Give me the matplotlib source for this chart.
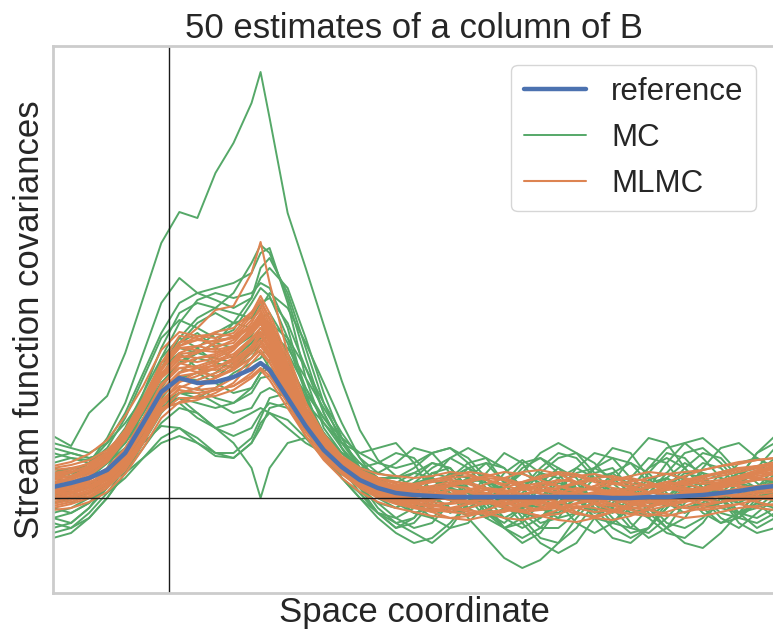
import matplotlib
matplotlib.use("Agg")
import matplotlib.pyplot as plt
from matplotlib.lines import Line2D
import seaborn as sns

sns.set_theme(style="white")
plt.rcParams['font.family'] = ['Liberation Sans', 'DejaVu Sans']

# space coordinate (0..100)
space = [0, 2.5, 5, 7.5, 10, 12.5, 15, 17.5, 20, 22.5, 25, 27.5, 28.75, 30, 32.5, 35, 37.5, 40,
         42.5, 45, 47.5, 50, 52.5, 55, 57.5, 60, 62.5, 65, 67.5, 70, 72.5, 75, 77.5, 80, 82.5,
         85, 87.5, 90, 92.5, 95, 97.5, 100]

reference = [0.11, 0.15, 0.20, 0.28, 0.45, 0.75, 1.06, 1.20, 1.15, 1.16, 1.21, 1.29, 1.35, 1.28,
             1.00, 0.72, 0.48, 0.31, 0.18, 0.10, 0.05, 0.03, 0.02, 0.01, 0.01, 0.01, 0.01, 0.01,
             0.01, 0.01, 0.01, 0.01, 0.00, 0.00, 0.01, 0.01, 0.02, 0.03, 0.05, 0.07, 0.10, 0.12]

mc_estimates = [
    [0.62,0.52,0.85,1.02,1.45,2.00,2.55,2.86,2.80,3.25,3.55,3.95,4.26,3.80,2.85,2.30,1.73,1.17,0.68,0.38,0.22,0.10,0.02,-0.10,-0.18,-0.12,0.02,0.15,0.20,0.12,-0.02,-0.12,-0.08,0.05,0.18,0.25,0.18,0.05,-0.05,0.00,0.12,0.20],
    [0.30,0.22,0.35,0.60,0.95,1.45,1.95,2.20,2.05,2.10,2.15,2.25,2.45,2.50,1.95,1.20,0.70,0.45,0.30,0.35,0.45,0.40,0.20,0.00,-0.10,0.02,0.25,0.38,0.25,0.02,-0.15,-0.20,-0.05,0.20,0.40,0.35,0.10,-0.10,-0.05,0.20,0.45,0.55],
    [0.10,0.05,0.12,0.30,0.60,1.05,1.50,1.85,1.95,1.90,2.05,2.35,2.53,2.45,2.00,1.40,0.85,0.50,0.25,0.10,-0.05,-0.15,-0.10,0.10,0.30,0.35,0.15,-0.10,-0.25,-0.20,0.05,0.25,0.30,0.10,-0.15,-0.30,-0.20,0.05,0.25,0.30,0.15,0.00],
    [-0.20,-0.25,-0.10,0.15,0.45,0.90,1.40,1.75,1.98,2.05,2.00,2.05,2.15,2.10,1.70,1.05,0.55,0.20,0.05,-0.15,-0.30,-0.20,0.05,0.25,0.20,-0.05,-0.30,-0.45,-0.35,-0.10,0.15,0.20,0.00,-0.25,-0.40,-0.30,-0.05,0.15,0.10,-0.15,-0.30,-0.20],
    [0.45,0.40,0.35,0.50,0.80,1.20,1.60,1.78,1.70,1.60,1.68,1.95,2.10,2.02,1.60,1.10,0.75,0.55,0.45,0.50,0.55,0.35,0.05,-0.15,-0.05,0.25,0.45,0.35,0.10,-0.05,0.05,0.30,0.50,0.45,0.20,0.00,0.05,0.30,0.50,0.55,0.40,0.30],
    [0.00,-0.05,0.05,0.20,0.45,0.80,1.15,1.35,1.45,1.55,1.50,1.62,1.80,1.85,1.55,1.05,0.60,0.30,0.10,-0.05,-0.10,0.05,0.25,0.30,0.10,-0.15,-0.25,-0.10,0.15,0.30,0.20,-0.05,-0.25,-0.30,-0.10,0.20,0.35,0.25,0.00,-0.15,-0.10,0.05],
    [0.25,0.30,0.28,0.35,0.55,0.85,1.20,1.55,1.65,1.50,1.40,1.55,1.70,1.62,1.25,0.85,0.55,0.40,0.35,0.20,0.00,-0.15,-0.20,-0.05,0.20,0.35,0.30,0.10,-0.10,-0.15,0.00,0.20,0.25,0.10,-0.05,0.00,0.20,0.35,0.30,0.10,0.00,0.10],
    [-0.35,-0.30,-0.15,0.05,0.30,0.65,1.00,1.20,1.18,1.25,1.40,1.55,1.62,1.50,1.20,0.90,0.65,0.40,0.15,-0.10,-0.25,-0.35,-0.45,-0.30,-0.05,0.10,0.05,-0.20,-0.40,-0.45,-0.30,-0.05,0.10,0.00,-0.20,-0.35,-0.40,-0.25,0.00,0.10,-0.05,-0.20],
    [0.55,0.50,0.45,0.55,0.75,1.00,1.30,1.45,1.30,1.20,1.35,1.50,1.45,1.30,1.05,0.80,0.60,0.45,0.30,0.25,0.35,0.50,0.45,0.25,0.05,-0.05,0.10,0.30,0.40,0.30,0.10,0.00,0.15,0.40,0.60,0.55,0.30,0.10,0.05,0.20,0.45,0.62],
    [-0.10,-0.15,-0.05,0.15,0.40,0.70,0.95,1.05,1.00,1.10,1.25,1.35,1.40,1.55,1.35,1.00,0.65,0.35,0.15,0.00,-0.05,0.10,0.20,0.05,-0.20,-0.40,-0.60,-0.70,-0.62,-0.45,-0.20,0.00,0.05,-0.10,-0.20,-0.05,0.15,0.20,0.00,-0.25,-0.35,-0.30],
    [0.20,0.15,0.20,0.35,0.50,0.70,0.90,0.95,0.80,0.70,0.75,0.85,0.90,0.85,0.70,0.55,0.45,0.40,0.30,0.15,0.05,0.15,0.30,0.40,0.30,0.10,-0.10,-0.15,0.00,0.20,0.30,0.20,0.00,-0.15,-0.10,0.10,0.25,0.20,0.05,-0.05,0.05,0.20],
    [-0.15,-0.10,0.00,0.15,0.35,0.55,0.72,0.70,0.55,0.42,0.40,0.55,0.75,0.85,0.78,0.60,0.40,0.20,0.00,-0.15,-0.20,-0.10,0.10,0.25,0.20,0.00,-0.20,-0.30,-0.20,0.00,0.15,0.10,-0.10,-0.30,-0.35,-0.20,0.00,0.10,0.00,-0.15,-0.20,-0.10],
    [0.10,0.05,0.10,0.25,0.45,0.70,0.95,1.00,0.85,0.70,0.55,0.30,0.00,0.30,0.55,0.60,0.50,0.35,0.20,0.05,-0.05,-0.10,-0.05,0.10,0.20,0.15,0.00,-0.10,-0.05,0.10,0.25,0.30,0.20,0.05,-0.05,0.00,0.15,0.25,0.20,0.05,0.00,0.05],
    [0.35,0.40,0.38,0.40,0.55,0.80,1.05,1.20,1.25,1.15,1.05,1.10,1.25,1.38,1.30,1.05,0.80,0.55,0.35,0.20,0.15,0.25,0.35,0.30,0.10,-0.05,-0.10,0.05,0.25,0.40,0.45,0.35,0.15,0.00,0.05,0.25,0.45,0.50,0.35,0.15,0.05,0.10],
    [-0.40,-0.35,-0.20,0.00,0.25,0.55,0.85,1.05,1.10,1.00,0.95,1.05,1.20,1.22,1.05,0.75,0.45,0.20,0.00,-0.20,-0.35,-0.45,-0.40,-0.25,-0.05,0.05,-0.05,-0.25,-0.45,-0.55,-0.45,-0.20,0.00,0.05,-0.10,-0.30,-0.45,-0.50,-0.35,-0.15,-0.05,-0.10],
    [0.05,0.10,0.20,0.35,0.60,0.95,1.30,1.60,1.80,1.90,1.85,1.80,1.90,2.05,1.90,1.55,1.15,0.75,0.40,0.15,0.00,-0.05,0.05,0.20,0.30,0.20,0.00,-0.15,-0.20,-0.05,0.15,0.30,0.40,0.35,0.15,-0.05,-0.15,-0.05,0.15,0.25,0.20,0.15],
    [0.15,0.20,0.25,0.35,0.50,0.75,1.00,1.25,1.40,1.35,1.30,1.45,1.60,1.75,1.60,1.30,0.95,0.65,0.40,0.25,0.20,0.30,0.45,0.50,0.35,0.15,0.10,0.25,0.45,0.55,0.45,0.25,0.05,-0.05,0.10,0.35,0.55,0.60,0.45,0.25,0.30,0.50],
    [-0.25,-0.30,-0.20,0.00,0.25,0.50,0.75,0.90,0.85,0.70,0.62,0.70,0.85,0.95,0.90,0.75,0.55,0.35,0.10,-0.15,-0.30,-0.25,-0.05,0.10,0.05,-0.15,-0.30,-0.25,-0.05,0.10,0.05,-0.20,-0.40,-0.45,-0.30,-0.05,0.10,0.00,-0.20,-0.30,-0.15,0.00],
    [0.30,0.25,0.30,0.45,0.70,1.05,1.40,1.60,1.50,1.35,1.30,1.40,1.55,1.65,1.50,1.20,0.90,0.60,0.30,0.10,0.05,0.15,0.20,0.10,-0.10,-0.20,-0.10,0.10,0.25,0.20,0.00,-0.15,-0.10,0.10,0.30,0.40,0.30,0.10,-0.10,-0.15,0.05,0.25],
    [-0.05,0.00,0.05,0.15,0.25,0.40,0.55,0.62,0.55,0.45,0.40,0.55,0.70,0.90,0.95,0.85,0.65,0.45,0.30,0.20,0.10,-0.05,-0.20,-0.30,-0.25,-0.05,0.15,0.25,0.15,-0.05,-0.25,-0.35,-0.25,-0.05,0.15,0.20,0.05,-0.15,-0.25,-0.15,0.05,0.15],
    [0.40,0.45,0.40,0.45,0.60,0.85,1.15,1.35,1.50,1.65,1.75,1.80,1.95,2.00,1.75,1.30,0.85,0.50,0.20,0.00,-0.10,0.00,0.20,0.40,0.50,0.40,0.15,-0.05,-0.10,0.05,0.30,0.45,0.40,0.20,0.05,0.10,0.30,0.45,0.40,0.20,0.10,0.15],
    [-0.30,-0.25,-0.10,0.10,0.35,0.65,0.90,1.00,0.95,0.90,0.95,1.10,1.25,1.30,1.15,0.85,0.55,0.30,0.10,-0.05,-0.20,-0.30,-0.25,-0.05,0.15,0.20,0.05,-0.15,-0.30,-0.30,-0.15,0.05,0.20,0.15,-0.05,-0.25,-0.30,-0.20,0.00,0.15,0.10,-0.05],
    [0.20,0.25,0.35,0.55,0.85,1.25,1.65,1.95,2.05,1.98,1.90,2.00,2.20,2.30,2.10,1.60,1.05,0.60,0.30,0.15,0.10,0.20,0.35,0.30,0.10,-0.10,-0.20,-0.10,0.10,0.25,0.15,-0.05,-0.15,0.00,0.25,0.45,0.40,0.20,0.00,-0.05,0.10,0.30],
    [0.00,0.05,0.00,0.05,0.20,0.40,0.60,0.70,0.60,0.45,0.45,0.60,0.80,1.00,1.05,0.95,0.75,0.50,0.30,0.10,0.00,-0.05,0.05,0.20,0.35,0.40,0.30,0.10,-0.10,-0.20,-0.15,0.05,0.25,0.35,0.25,0.05,-0.10,-0.05,0.15,0.35,0.40,0.30],
    [-0.20,-0.15,-0.05,0.10,0.35,0.70,1.10,1.35,1.45,1.40,1.35,1.45,1.62,1.65,1.40,1.00,0.60,0.30,0.05,-0.15,-0.25,-0.20,0.00,0.15,0.10,-0.10,-0.30,-0.40,-0.30,-0.10,0.05,0.00,-0.20,-0.35,-0.30,-0.10,0.10,0.15,0.00,-0.20,-0.25,-0.15],
    [0.50,0.45,0.40,0.45,0.65,0.95,1.30,1.55,1.75,1.85,1.75,1.70,1.80,1.75,1.45,1.10,0.80,0.60,0.45,0.35,0.30,0.35,0.45,0.50,0.40,0.20,0.05,0.10,0.30,0.45,0.40,0.20,0.05,0.10,0.30,0.50,0.55,0.40,0.20,0.15,0.25,0.40],
    [0.05,0.00,0.05,0.20,0.40,0.65,0.90,1.05,1.05,0.95,0.85,0.90,1.05,1.10,1.00,0.80,0.60,0.40,0.20,0.05,0.00,0.10,0.25,0.20,0.00,-0.20,-0.30,-0.20,0.00,0.15,0.10,-0.10,-0.30,-0.40,-0.30,-0.10,0.05,0.00,-0.15,-0.20,-0.05,0.10],
    [0.25,0.20,0.25,0.40,0.65,1.00,1.35,1.50,1.45,1.55,1.75,2.00,2.30,2.40,2.05,1.50,0.95,0.55,0.30,0.20,0.20,0.25,0.20,0.05,-0.10,-0.05,0.15,0.35,0.40,0.25,0.00,-0.20,-0.25,-0.10,0.10,0.20,0.10,-0.10,-0.25,-0.20,0.00,0.20],
]

mlmc_estimates = [
    [0.20,0.25,0.32,0.45,0.68,0.98,1.35,1.55,1.70,1.88,1.92,2.25,2.56,2.15,1.45,0.95,0.62,0.40,0.26,0.16,0.10,0.06,0.08,0.12,0.10,0.05,0.00,-0.04,-0.02,0.05,0.10,0.08,0.02,-0.03,-0.05,0.00,0.06,0.10,0.14,0.18,0.22,0.25],
    [0.02,0.05,0.10,0.18,0.35,0.62,0.95,1.08,1.05,1.08,1.12,1.22,1.30,1.22,0.95,0.66,0.42,0.25,0.12,0.04,-0.02,-0.06,-0.08,-0.05,0.00,0.04,0.02,-0.03,-0.08,-0.10,-0.06,-0.02,0.00,-0.04,-0.08,-0.06,-0.02,0.02,0.04,0.02,0.00,-0.02],
    [0.30,0.33,0.38,0.48,0.66,0.95,1.28,1.50,1.52,1.48,1.52,1.70,1.82,1.66,1.28,0.88,0.58,0.38,0.26,0.20,0.16,0.12,0.10,0.12,0.16,0.20,0.18,0.12,0.08,0.10,0.14,0.18,0.16,0.10,0.06,0.08,0.12,0.18,0.22,0.26,0.30,0.34],
    [-0.08,-0.04,0.02,0.12,0.30,0.58,0.92,1.10,1.18,1.25,1.32,1.48,1.58,1.45,1.10,0.72,0.45,0.26,0.12,0.02,-0.04,-0.08,-0.12,-0.14,-0.10,-0.05,-0.04,-0.08,-0.12,-0.10,-0.05,0.00,-0.02,-0.06,-0.08,-0.04,0.02,0.06,0.04,0.00,-0.04,-0.08],
    [0.15,0.20,0.28,0.40,0.62,0.92,1.25,1.42,1.40,1.42,1.50,1.68,1.80,1.62,1.22,0.80,0.50,0.32,0.22,0.15,0.10,0.08,0.05,0.00,-0.03,0.00,0.06,0.12,0.15,0.12,0.06,0.02,0.04,0.10,0.14,0.12,0.08,0.10,0.16,0.22,0.26,0.28],
    [0.05,0.08,0.14,0.24,0.42,0.72,1.05,1.25,1.30,1.36,1.42,1.58,1.66,1.50,1.15,0.80,0.55,0.36,0.22,0.12,0.05,0.02,0.04,0.08,0.06,0.00,-0.06,-0.08,-0.04,0.02,0.04,0.00,-0.06,-0.10,-0.08,-0.02,0.04,0.06,0.10,0.14,0.18,0.20],
    [0.10,0.12,0.16,0.22,0.36,0.60,0.90,0.95,0.98,1.05,1.15,1.35,1.45,1.35,1.05,0.74,0.50,0.32,0.18,0.08,0.02,-0.04,-0.08,-0.10,-0.12,-0.15,-0.20,-0.22,-0.18,-0.12,-0.08,-0.10,-0.14,-0.16,-0.12,-0.08,-0.04,0.00,0.02,0.04,0.06,0.08],
    [0.25,0.28,0.35,0.46,0.68,1.00,1.35,1.62,1.60,1.52,1.55,1.75,1.92,1.74,1.32,0.90,0.60,0.40,0.28,0.20,0.14,0.10,0.12,0.16,0.14,0.08,0.05,0.08,0.14,0.18,0.16,0.10,0.04,0.02,0.06,0.12,0.18,0.22,0.24,0.28,0.32,0.36],
    [-0.02,0.02,0.08,0.18,0.38,0.68,1.02,1.22,1.25,1.30,1.38,1.52,1.62,1.48,1.12,0.76,0.48,0.28,0.15,0.06,0.00,-0.02,0.00,0.04,0.08,0.10,0.08,0.04,0.00,-0.04,-0.02,0.02,0.06,0.04,-0.02,-0.06,-0.04,0.02,0.06,0.10,0.12,0.14],
    [0.12,0.16,0.24,0.36,0.58,0.88,1.20,1.40,1.45,1.55,1.62,1.82,1.98,1.80,1.35,0.90,0.58,0.36,0.22,0.12,0.06,0.04,0.02,-0.02,-0.05,-0.06,-0.02,0.04,0.08,0.06,0.00,-0.04,-0.06,-0.02,0.04,0.08,0.10,0.08,0.10,0.14,0.20,0.24],
    [0.08,0.10,0.15,0.26,0.46,0.78,1.12,1.30,1.26,1.22,1.28,1.45,1.55,1.42,1.08,0.74,0.48,0.30,0.18,0.10,0.06,0.06,0.10,0.14,0.18,0.22,0.26,0.24,0.18,0.12,0.08,0.10,0.14,0.12,0.06,0.02,0.04,0.08,0.12,0.16,0.18,0.20],
    [0.18,0.22,0.30,0.44,0.66,0.96,1.30,1.50,1.48,1.46,1.50,1.64,1.74,1.58,1.18,0.78,0.50,0.30,0.18,0.10,0.04,0.00,-0.04,-0.06,-0.04,0.00,0.02,0.00,-0.04,-0.08,-0.10,-0.06,0.00,0.04,0.06,0.04,0.02,0.06,0.12,0.18,0.24,0.30],
    [0.00,0.04,0.10,0.20,0.40,0.70,1.02,1.18,1.15,1.20,1.30,1.50,1.64,1.50,1.15,0.78,0.50,0.30,0.16,0.06,0.00,-0.05,-0.10,-0.14,-0.16,-0.12,-0.06,-0.02,0.00,-0.04,-0.10,-0.14,-0.12,-0.06,0.00,0.02,-0.02,-0.06,-0.04,0.00,0.04,0.06],
    [0.22,0.26,0.32,0.42,0.60,0.90,1.22,1.38,1.36,1.40,1.48,1.66,1.78,1.62,1.24,0.84,0.56,0.36,0.24,0.16,0.12,0.10,0.08,0.04,0.02,0.04,0.10,0.16,0.20,0.24,0.22,0.16,0.10,0.08,0.10,0.14,0.16,0.14,0.16,0.20,0.26,0.32],
    [0.06,0.10,0.18,0.30,0.50,0.80,1.14,1.30,1.32,1.38,1.44,1.60,1.70,1.55,1.18,0.80,0.52,0.32,0.20,0.12,0.08,0.04,0.00,0.02,0.06,0.08,0.04,-0.02,-0.06,-0.04,0.02,0.06,0.08,0.04,0.00,-0.02,0.02,0.08,0.12,0.12,0.10,0.10],
    [-0.10,-0.06,0.00,0.10,0.28,0.55,0.88,1.05,1.10,1.20,1.28,1.40,1.48,1.36,1.02,0.68,0.42,0.24,0.10,0.00,-0.06,-0.10,-0.12,-0.10,-0.06,-0.04,-0.08,-0.14,-0.18,-0.16,-0.10,-0.06,-0.08,-0.12,-0.16,-0.18,-0.14,-0.10,-0.08,-0.06,-0.10,-0.12],
    [0.14,0.18,0.26,0.40,0.64,0.95,1.30,1.56,1.58,1.56,1.60,1.78,1.88,1.70,1.28,0.86,0.56,0.36,0.22,0.14,0.10,0.12,0.16,0.18,0.16,0.10,0.06,0.04,0.06,0.10,0.16,0.20,0.22,0.18,0.12,0.10,0.14,0.20,0.26,0.30,0.30,0.28],
    [0.04,0.06,0.12,0.22,0.42,0.74,1.08,1.26,1.30,1.32,1.36,1.50,1.58,1.44,1.10,0.74,0.46,0.28,0.14,0.06,0.02,0.00,-0.02,0.00,0.02,-0.02,-0.08,-0.12,-0.10,-0.04,0.02,0.04,0.02,-0.02,-0.04,0.00,0.06,0.10,0.08,0.06,0.08,0.12],
    [0.28,0.30,0.34,0.44,0.62,0.90,1.20,1.35,1.30,1.28,1.34,1.52,1.66,1.52,1.16,0.80,0.54,0.36,0.26,0.20,0.16,0.14,0.16,0.20,0.22,0.18,0.12,0.08,0.10,0.16,0.22,0.24,0.20,0.14,0.12,0.16,0.22,0.28,0.32,0.34,0.38,0.40],
    [-0.04,0.00,0.06,0.16,0.34,0.62,0.96,1.16,1.22,1.30,1.40,1.58,1.70,1.56,1.20,0.82,0.52,0.30,0.16,0.06,-0.02,-0.08,-0.14,-0.20,-0.22,-0.18,-0.12,-0.06,-0.04,-0.08,-0.14,-0.20,-0.22,-0.18,-0.10,-0.04,0.00,-0.02,-0.04,-0.02,0.02,0.00],
    [0.32,0.36,0.44,0.58,0.82,1.12,1.48,1.66,1.62,1.60,1.65,1.85,2.02,1.85,1.40,0.95,0.64,0.42,0.30,0.24,0.22,0.20,0.22,0.26,0.24,0.18,0.14,0.16,0.22,0.26,0.24,0.18,0.14,0.16,0.20,0.24,0.26,0.28,0.32,0.36,0.38,0.40],
    [-0.12,-0.10,-0.04,0.06,0.24,0.50,0.80,0.96,1.02,1.08,1.12,1.25,1.35,1.25,0.95,0.62,0.38,0.20,0.06,-0.04,-0.10,-0.14,-0.18,-0.20,-0.18,-0.14,-0.12,-0.14,-0.18,-0.22,-0.24,-0.20,-0.14,-0.10,-0.12,-0.16,-0.20,-0.18,-0.14,-0.10,-0.08,-0.06],
    [0.10,0.14,0.22,0.36,0.60,0.92,1.28,1.52,1.62,1.64,1.62,1.72,1.85,1.72,1.30,0.88,0.56,0.34,0.20,0.10,0.04,0.02,0.06,0.12,0.18,0.22,0.20,0.14,0.08,0.04,0.06,0.12,0.18,0.20,0.16,0.10,0.06,0.08,0.14,0.20,0.24,0.26],
    [0.06,0.08,0.12,0.20,0.38,0.66,0.98,1.12,1.08,1.10,1.20,1.40,1.52,1.40,1.06,0.72,0.46,0.28,0.14,0.04,-0.04,-0.10,-0.14,-0.12,-0.06,0.00,0.04,0.02,-0.04,-0.10,-0.16,-0.18,-0.14,-0.08,-0.04,-0.06,-0.10,-0.12,-0.10,-0.06,-0.02,0.02],
    [0.24,0.26,0.30,0.40,0.60,0.90,1.24,1.45,1.52,1.58,1.60,1.70,1.80,1.66,1.28,0.88,0.58,0.38,0.24,0.14,0.08,0.06,0.02,-0.02,-0.04,0.00,0.06,0.10,0.12,0.08,0.02,-0.02,0.00,0.06,0.12,0.16,0.14,0.10,0.12,0.18,0.26,0.34],
    [-0.06,-0.02,0.04,0.14,0.32,0.60,0.94,1.16,1.26,1.34,1.48,1.68,1.84,1.68,1.26,0.84,0.52,0.30,0.16,0.08,0.04,0.06,0.10,0.08,0.02,-0.04,-0.10,-0.14,-0.12,-0.06,0.00,0.04,0.08,0.06,0.00,-0.06,-0.10,-0.08,-0.04,0.02,0.06,0.10],
    [0.16,0.20,0.26,0.38,0.58,0.88,1.22,1.44,1.46,1.50,1.58,1.72,1.80,1.64,1.24,0.82,0.52,0.32,0.20,0.14,0.12,0.14,0.18,0.22,0.26,0.24,0.18,0.10,0.04,0.02,0.06,0.12,0.18,0.22,0.26,0.24,0.20,0.16,0.18,0.22,0.28,0.30],
    [0.00,0.02,0.06,0.14,0.30,0.56,0.86,1.00,1.00,1.02,1.08,1.20,1.28,1.18,0.90,0.62,0.40,0.24,0.12,0.04,0.00,-0.02,-0.06,-0.10,-0.14,-0.16,-0.14,-0.08,-0.02,0.02,0.00,-0.06,-0.12,-0.16,-0.18,-0.14,-0.08,-0.02,0.00,-0.02,0.00,0.04],
    [0.20,0.22,0.28,0.40,0.62,0.94,1.30,1.52,1.58,1.66,1.70,1.86,1.96,1.78,1.34,0.90,0.58,0.38,0.26,0.18,0.12,0.08,0.04,0.04,0.08,0.14,0.20,0.26,0.28,0.24,0.16,0.08,0.02,0.00,0.04,0.10,0.16,0.22,0.26,0.30,0.32,0.34],
    [0.08,0.12,0.18,0.28,0.48,0.78,1.12,1.34,1.40,1.44,1.52,1.66,1.76,1.60,1.20,0.80,0.50,0.30,0.16,0.06,0.00,-0.04,-0.02,0.02,0.06,0.04,-0.02,-0.06,-0.04,0.00,0.06,0.10,0.06,0.00,-0.04,-0.02,0.04,0.10,0.16,0.20,0.20,0.18],
]

observation_x = 16

blue, green, orange = '#4c72b0', '#55a868', '#dd8452'

fig = plt.figure(figsize=(7.73, 6.33), dpi=100)
ax = fig.add_axes([53 / 773, 1 - 593 / 633, 722 / 773, 547 / 633])

for est in mc_estimates:
    ax.plot(space, est, color=green, lw=1.4)
for est in mlmc_estimates:
    ax.plot(space, est, color=orange, lw=1.5)
ax.axhline(0, color='k', lw=1.0)
ax.axvline(observation_x, color='k', lw=1.0)
ax.plot(space, reference, color=blue, lw=3.2)

ax.set_xlim(0, 100)
ax.set_ylim(-0.95, 4.52)
ax.set_xticks([])
ax.set_yticks([])
for s in ax.spines.values():
    s.set_color('#cccccc')
    s.set_linewidth(2)

ax.set_title('50 estimates of a column of B', fontsize=25, pad=6)
ax.set_xlabel('Space coordinate', fontsize=25, labelpad=2)
ax.set_ylabel('Stream function covariances', fontsize=25, labelpad=5)

handles = [Line2D([], [], color=blue, lw=3.2),
           Line2D([], [], color=green, lw=1.4),
           Line2D([], [], color=orange, lw=1.5)]
ax.legend(handles, ['reference', 'MC', 'MLMC'], loc='upper right', fontsize=22.5,
          borderaxespad=0.6)

fig.savefig('out.png', dpi=100)
